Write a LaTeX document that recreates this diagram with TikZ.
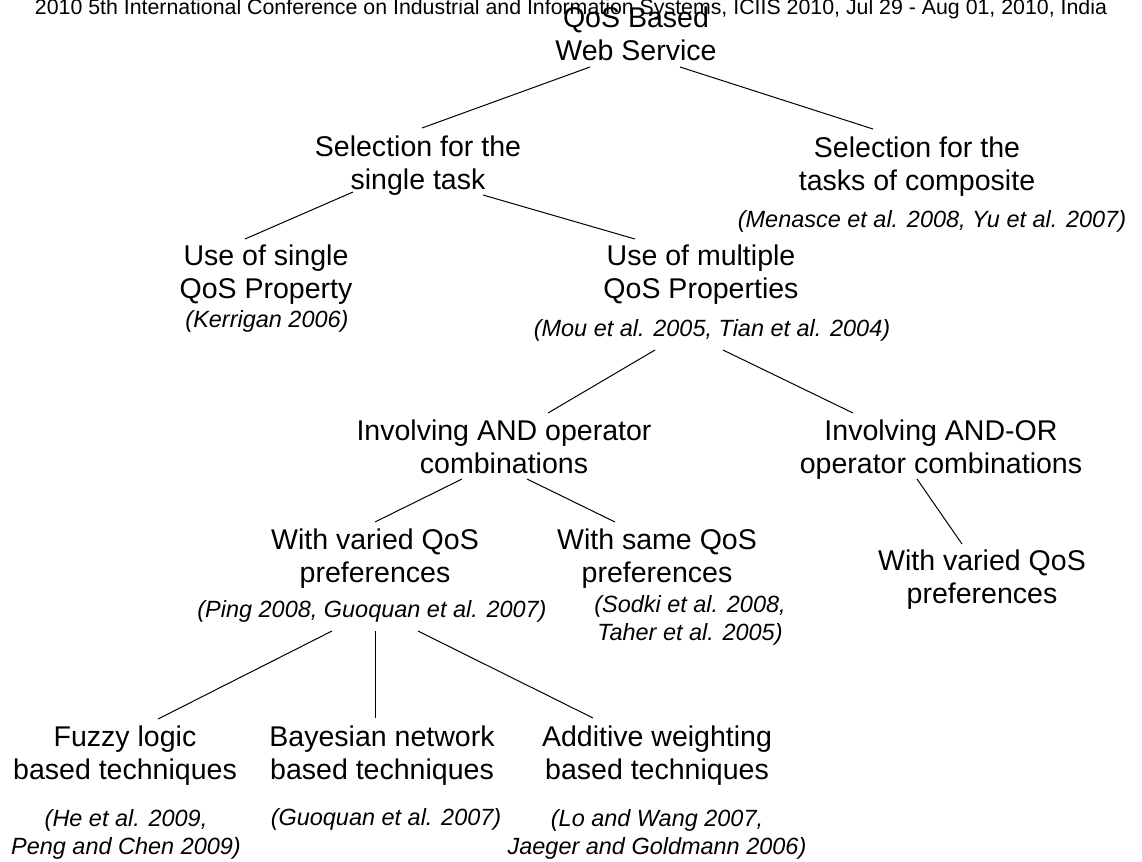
\documentclass[tikz,border=0pt]{standalone}
\usepackage{fontspec}
\setmainfont{Liberation Sans}
\usetikzlibrary{calc}

\tikzset{every picture/.style={line width=0.75pt}}
\tikzset{
  topic/.style={anchor=base, inner sep=0.75pt, align=center, font=\fontsize{21.4pt}{24.6pt}\selectfont},
  cite/.style={anchor=base, inner sep=0.75pt, align=center, font=\fontsize{17.6pt}{21pt}\selectfont\itshape},
  header/.style={anchor=base, inner sep=0.75pt, font=\fontsize{16pt}{18pt}\selectfont}
}

\begin{document}
\begin{tikzpicture}[x=0.75pt,y=0.75pt,yscale=-1,xscale=1]
%set diagram size to the page
\useasboundingbox (0,0) rectangle (1142,861);

% Text Node
\draw (571,14) node [header] (hdr) {2010 5th International Conference on Industrial and Information Systems, ICIIS 2010, Jul 29 - Aug 01, 2010, India};
% Text Node
\draw (636,60) node [topic] (root) {QoS Based\\Web Service};
% Text Node
\draw (418,189) node [topic] (single) {Selection for the\\single task};
% Text Node
\draw (917,190) node [topic] (compo) {Selection for the\\tasks of composite};
% Text Node
\draw (932,227) node [cite] (compocite) {(Menasce et al. 2008, Yu et al. 2007)};
% Text Node
\draw (266,298) node [topic] (oneprop) {Use of single\\QoS Property};
% Text Node
\draw (267,327) node [cite] (onecite) {(Kerrigan 2006)};
% Text Node
\draw (701,298) node [topic] (multiprop) {Use of multiple\\QoS Properties};
% Text Node
\draw (712,336) node [cite] (multicite) {(Mou et al. 2005, Tian et al. 2004)};
% Text Node
\draw (504,473) node [topic] (andop) {Involving AND operator\\combinations};
% Text Node
\draw (941,473) node [topic] (andor) {Involving AND-OR\\operator combinations};
% Text Node
\draw (375,582) node [topic] (variedA) {With varied QoS\\preferences};
% Text Node
\draw (372,617) node [cite] (variedcite) {(Ping 2008, Guoquan et al. 2007)};
% Text Node
\draw (657,582) node [topic] (same) {With same QoS\\preferences};
% Text Node
\draw (690,640) node [cite] (samecite) {(Sodki et al. 2008,\\Taher et al. 2005)};
% Text Node
\draw (982,603) node [topic] (variedB) {With varied QoS\\preferences};
% Text Node
\draw (125,779) node [topic] (fuzzy) {Fuzzy logic\\based techniques};
% Text Node
\draw (126,854) node [cite] (fuzzycite) {(He et al. 2009,\\Peng and Chen 2009)};
% Text Node
\draw (382,779) node [topic] (bayes) {Bayesian network\\based techniques};
% Text Node
\draw (386,825) node [cite] (bayescite) {(Guoquan et al. 2007)};
% Text Node
\draw (657,779) node [topic] (additive) {Additive weighting\\based techniques};
% Text Node
\draw (657,854) node [cite] (additivecite) {(Lo and Wang 2007,\\Jaeger and Goldmann 2006)};

%Straight Lines
\draw ($(root.base)+(-46,7)$) -- ($(single.base)+(4,-61)$) ;
%Straight Lines
\draw ($(root.base)+(44,7)$) -- ($(compo.base)+(-44,-61)$) ;
%Straight Lines
\draw ($(single.base)+(-65,3)$) -- ($(oneprop.base)+(-21,-59)$) ;
%Straight Lines
\draw ($(single.base)+(65,6)$) -- ($(multiprop.base)+(-66,-59)$) ;
%Straight Lines
\draw ($(multicite.base)+(-57,14)$) -- ($(andop.base)+(44,-60)$) ;
%Straight Lines
\draw ($(multicite.base)+(11,14)$) -- ($(andor.base)+(-88,-60)$) ;
%Straight Lines
\draw ($(andop.base)+(-42,6)$) -- ($(variedA.base)+(0,-60)$) ;
%Straight Lines
\draw ($(andop.base)+(23,6)$) -- ($(same.base)+(-42,-60)$) ;
%Straight Lines
\draw ($(andor.base)+(-24,6)$) -- ($(variedB.base)+(-20,-59)$) ;
%Straight Lines
\draw ($(variedcite.base)+(-40,14)$) -- ($(fuzzy.base)+(33,-60)$) ;
%Straight Lines
\draw ($(variedcite.base)+(3,14)$) -- ($(bayes.base)+(-7,-61)$) ;
%Straight Lines
\draw ($(variedcite.base)+(46,14)$) -- ($(additive.base)+(-64,-61)$) ;

\end{tikzpicture}
\end{document}
